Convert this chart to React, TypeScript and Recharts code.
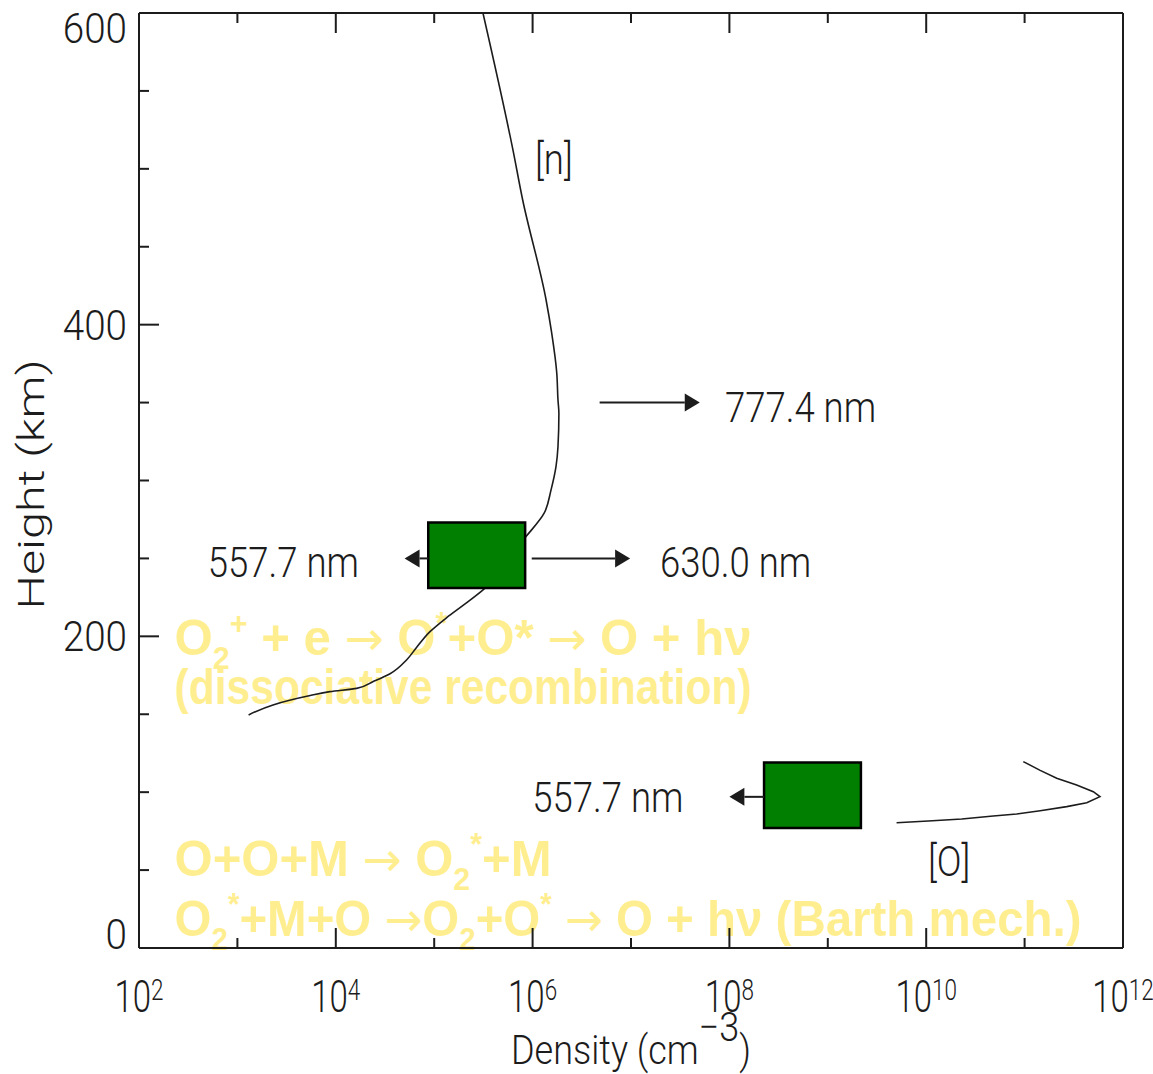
import {
  ComposedChart,
  Line,
  XAxis,
  YAxis,
  ReferenceArea,
  ReferenceLine,
  ReferenceDot,
  Label,
} from 'recharts'

// [n] electron density profile (height km -> cm^-3)
const N_HEIGHT = [149.5, 156, 162, 164.5, 166.6, 171, 176, 185, 193, 203, 212, 220, 230, 264, 279, 294, 309, 321.5, 343, 352, 369, 395, 416, 480, 512, 600]
const N_DENSITY = [1.3e3, 2.3e3, 5.5e3, 8.7e3, 1.63e4, 2.4e4, 3.56e4, 5.26e4, 6.64e4, 9.06e4, 1.34e5, 1.98e5, 3.16e5, 8.57e5, 1.31e6, 1.54e6, 1.73e6, 1.81e6, 1.85e6, 1.81e6, 1.76e6, 1.56e6, 1.37e6, 7.93e5, 6.32e5, 3.13e5]

// [O] atomic oxygen profile
const O_HEIGHT = [80.4, 81.5, 82.8, 84.7, 86, 88.1, 90.7, 93.2, 97.1, 100.3, 104.6, 108.9, 114, 119.6]
const O_DENSITY = [5.0e9, 1.05e10, 2.3e10, 4.8e10, 8.3e10, 1.44e11, 2.68e11, 4.28e11, 5.83e11, 4.99e11, 3.38e11, 2.12e11, 1.44e11, 9.7e10]

const X_TICKS = [1e2, 1e3, 1e4, 1e5, 1e6, 1e7, 1e8, 1e9, 1e10, 1e11, 1e12]
const Y_TICKS = [0, 50, 100, 150, 200, 250, 300, 350, 400, 450, 500, 550, 600]
const Y_LABELS = [0, 200, 400, 600]

// emission boxes
const BOX_X1 = [8.7e4, 2.25e8]
const BOX_X2 = [8.4e5, 2.17e9]
const BOX_H1 = [231, 77]
const BOX_H2 = [273, 119]

// arrows (tail -> head)
const ARROW_H = [350, 250, 250, 97]
const ARROW_FROM = [4.8e6, 9.8e5, 8.7e4, 2.25e8]
const ARROW_TO = [5.0e7, 9.8e6, 5.0e4, 1.0e8]

const TAGS = ['777.4 nm', '630.0 nm', '557.7 nm', '557.7 nm', '[n]', '[O]']
const TAG_X = [9.0e7, 1.97e7, 5.0e2, 9.9e5, 1.06e6, 1.04e10]
const TAG_H = [347, 248, 248, 97, 506, 56]

type Seg = [string, ('sub' | 'sup' | 'arr')?]
const REACTIONS: Seg[][] = [
  [['O'], ['2', 'sub'], ['+', 'sup'], [' + e '], ['\u2192', 'arr'], [' O'], ['*', 'sup'], ['+O* '], ['\u2192', 'arr'], [' O + h\u03bd']],
  [['(dissociative recombination)']],
  [['O+O+M '], ['\u2192', 'arr'], [' O'], ['2', 'sub'], ['*', 'sup'], ['+M']],
  [['O'], ['2', 'sub'], ['*', 'sup'], ['+M+O '], ['\u2192', 'arr'], ['O'], ['2', 'sub'], ['+O'], ['*', 'sup'], [' '], ['\u2192', 'arr'], [' O + h\u03bd (Barth mech.)']],
]
const REACTION_X = 2.3e2
const REACTION_H = [188, 156.6, 46.2, 7.7]
const REACTION_W = [577, 577, 377, 907]

const INK = '#1c1c1c'
const HERSHEY = 'Roboto, "DejaVu Sans", sans-serif'
const BOLD = '"Liberation Sans", Arial, sans-serif'
const PALE = '#ffee90'
const GREEN = '#007f00'

const nData = N_HEIGHT.map((h, i) => ({ h, v: N_DENSITY[i] }))
const oData = O_HEIGHT.map((h, i) => ({ h, v: O_DENSITY[i] }))

function Thin({ x, y, size = 42, sx = 0.87, anchor = 'start', rotate = 0, len, children }: any) {
  const t =
    `translate(${x},${y})` + (rotate ? ` rotate(${rotate})` : '') + (len ? '' : ` scale(${sx},1)`)
  return (
    <g transform={t}>
      <text
        x={0}
        y={0}
        fontFamily={HERSHEY}
        fontWeight={300}
        fontSize={size}
        fill={INK}
        textAnchor={anchor}
        textLength={len}
        lengthAdjust={len ? 'spacingAndGlyphs' : undefined}
      >
        {children}
      </text>
    </g>
  )
}

function Rich({ segs, size }: { segs: Seg[]; size: number }) {
  let level = 0
  return (
    <>
      {segs.map(([s, k], i) => {
        const target = k === 'sub' ? 0.28 : k === 'sup' ? -0.42 : 0
        const dy = (target - level) * size
        level = target
        if (k === 'arr') {
          return (
            <tspan key={i} dy={dy} fontFamily='"DejaVu Sans", sans-serif' fontWeight={400} fontSize={size * 0.95}>
              {s}
            </tspan>
          )
        }
        return (
          <tspan key={i} dy={dy} fontSize={k ? size * 0.62 : size}>
            {s}
          </tspan>
        )
      })}
    </>
  )
}

const tickLen = (major: boolean) => (major ? 20 : 10)

function BottomTick({ x, y, payload }: any) {
  const e = Math.round(Math.log10(payload.value))
  const major = e % 2 === 0
  return (
    <g>
      <line x1={x} x2={x} y1={y} y2={y - tickLen(major)} stroke={INK} strokeWidth={2} />
      {major && (
        <Thin x={x} y={y + 64} size={44} sx={0.75} anchor="middle">
          10
          <tspan dy={-12} fontSize={30}>
            {e}
          </tspan>
        </Thin>
      )}
    </g>
  )
}

function TopTick({ x, y, payload }: any) {
  const major = Math.round(Math.log10(payload.value)) % 2 === 0
  return <line x1={x} x2={x} y1={y} y2={y + tickLen(major)} stroke={INK} strokeWidth={2} />
}

function LeftTick({ x, y, payload }: any) {
  const v = payload.value
  const major = Y_LABELS.includes(v)
  const shift = v === 600 ? 15 : v === 0 ? -14 : 0
  return (
    <g>
      <line x1={x} x2={x + tickLen(major)} y1={y} y2={y} stroke={INK} strokeWidth={2} />
      {major && (
        <Thin x={x - 12} y={y + 15 + shift} anchor="end" sx={0.92}>
          {v}
        </Thin>
      )}
    </g>
  )
}

function RightTick({ x, y, payload }: any) {
  const major = Y_LABELS.includes(payload.value)
  return <line x1={x} x2={x - tickLen(major)} y1={y} y2={y} stroke={INK} strokeWidth={2} />
}

function Arrow(p: any) {
  const { x1, y1, x2, y2 } = p
  const d = x2 > x1 ? 1 : -1
  const base = x2 - d * 15
  return (
    <g>
      <line x1={x1} y1={y1} x2={base} y2={y2} stroke={INK} strokeWidth={2} />
      <polygon points={`${x2},${y2} ${base},${y2 - 9} ${base},${y2 + 9}`} fill={INK} />
    </g>
  )
}

export default function App() {
  return (
    <div style={{ position: 'absolute', left: 0, top: 0, background: '#fff' }}>
      <ComposedChart
        width={1153}
        height={1074}
        layout="vertical"
        margin={{ top: 12, right: 29, bottom: 0, left: 0 }}
      >
        <XAxis
          type="number"
          scale="log"
          domain={[1e2, 1e12]}
          allowDataOverflow
          ticks={X_TICKS}
          interval={0}
          height={126}
          tickSize={0}
          tickMargin={0}
          tickLine={false}
          tick={BottomTick}
          axisLine={{ stroke: INK, strokeWidth: 2 }}
        >
          <Label
            content={(p: any) => (
              <Thin x={p.viewBox.x + p.viewBox.width / 2} y={p.viewBox.y + 116} size={40} sx={0.9} anchor="middle">
                Density (cm
                <tspan dy={-23}>{'\u22123'}</tspan>
                <tspan dy={23}>)</tspan>
              </Thin>
            )}
          />
        </XAxis>
        <XAxis
          xAxisId="top"
          orientation="top"
          type="number"
          scale="log"
          domain={[1e2, 1e12]}
          allowDataOverflow
          ticks={X_TICKS}
          interval={0}
          height={1}
          tickSize={0}
          tickMargin={0}
          tickLine={false}
          tick={TopTick}
          axisLine={{ stroke: INK, strokeWidth: 2 }}
        />
        <YAxis
          type="number"
          dataKey="h"
          reversed
          domain={[0, 600]}
          allowDataOverflow
          ticks={Y_TICKS}
          interval={0}
          width={139}
          tickSize={0}
          tickMargin={0}
          tickLine={false}
          tick={LeftTick}
          axisLine={{ stroke: INK, strokeWidth: 2 }}
        >
          <Label
            content={(p: any) => (
              <Thin
                x={44}
                y={p.viewBox.y + p.viewBox.height / 2 + 4}
                size={37}
                rotate={-90}
                len={250}
                anchor="middle"
              >
                Height (km)
              </Thin>
            )}
          />
        </YAxis>
        <YAxis
          yAxisId="right"
          orientation="right"
          type="number"
          reversed
          domain={[0, 600]}
          allowDataOverflow
          ticks={Y_TICKS}
          interval={0}
          width={1}
          tickSize={0}
          tickMargin={0}
          tickLine={false}
          tick={RightTick}
          axisLine={{ stroke: INK, strokeWidth: 2 }}
        />

        {REACTIONS.map((segs, i) => (
          <ReferenceDot
            key={`r${i}`}
            x={REACTION_X}
            y={REACTION_H[i]}
            r={0}
            ifOverflow="visible"
            zIndex={50}
            shape={(p: any) => (
              <text
                x={p.cx}
                y={p.cy}
                fontFamily={BOLD}
                fontWeight={700}
                fontSize={50}
                fill={PALE}
                textLength={REACTION_W[i]}
                lengthAdjust="spacingAndGlyphs"
              >
                <Rich segs={segs} size={50} />
              </text>
            )}
          />
        ))}

        <Line
          data={nData}
          dataKey="v"
          type="monotone"
          stroke={INK}
          strokeWidth={1.6}
          dot={false}
          activeDot={false}
          isAnimationActive={false}
        />
        <Line
          data={oData}
          dataKey="v"
          type="linear"
          stroke={INK}
          strokeWidth={1.6}
          dot={false}
          activeDot={false}
          isAnimationActive={false}
        />

        {BOX_X1.map((x1, i) => (
          <ReferenceArea
            key={`b${i}`}
            x1={x1}
            x2={BOX_X2[i]}
            y1={BOX_H1[i]}
            y2={BOX_H2[i]}
            fill={GREEN}
            fillOpacity={1}
            stroke="#000"
            strokeWidth={2.5}
            ifOverflow="visible"
            zIndex={450}
          />
        ))}

        {ARROW_H.map((h, i) => (
          <ReferenceLine
            key={`a${i}`}
            segment={[
              { x: ARROW_FROM[i], y: h },
              { x: ARROW_TO[i], y: h },
            ]}
            shape={Arrow}
            ifOverflow="visible"
            zIndex={460}
          />
        ))}

        {TAGS.map((t, i) => (
          <ReferenceDot
            key={`t${i}`}
            x={TAG_X[i]}
            y={TAG_H[i]}
            r={0}
            ifOverflow="visible"
            shape={(p: any) => (
              <Thin x={p.cx} y={p.cy + 15}>
                {t}
              </Thin>
            )}
          />
        ))}
      </ComposedChart>
    </div>
  )
}
